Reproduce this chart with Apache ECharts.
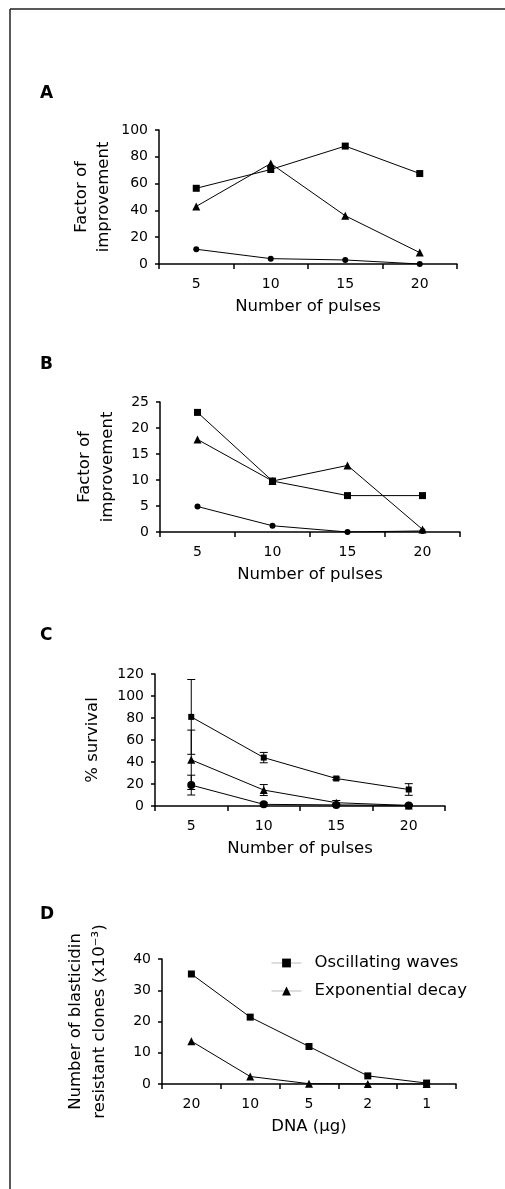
<!DOCTYPE html>
<html><head><meta charset="utf-8">
<script src="https://cdn.jsdelivr.net/npm/echarts@6/dist/echarts.min.js"></script>
<style>html,body{margin:0;padding:0;background:#fff;}#c{width:505px;height:1189px;}</style>
</head><body><div id="c"></div>
<script>
// ---- data ----
const pulses = ['5', '10', '15', '20'];
const aSquares = [56.5, 70.5, 88, 67.5];
const aTriangles = [43, 75, 36, 8.5];
const aCircles = [11, 4, 3, 0];
const bSquares = [23, 9.8, 7, 7];
const bTriangles = [17.8, 9.8, 12.8, 0.5];
const bCircles = [4.9, 1.2, 0, 0.2];
const cSquares = [81, 44, 25, 15];
const cSquaresErr = [34, 4.7, 1.2, 5.3];
const cTriangles = [42, 14.5, 3, 0.5];
const cTrianglesErr = [27, 5, 2, 1];
const cCircles = [19, 1.5, 1, 0.5];
const cCirclesErr = [9, 1.5, 1, 1];
const dnaAmounts = ['20', '10', '5', '2', '1'];
const dOscillating = [35.2, 21.4, 12, 2.6, 0.3];
const dExponential = [13.7, 2.4, 0.1, 0, 0];
const yMaxA = 100, yStepA = 20;
const yMaxB = 25, yStepB = 5;
const yMaxC = 120, yStepC = 20;
const yMaxD = 40, yStepD = 10;

const FF = 'DejaVu Sans';
const chart = echarts.init(document.getElementById('c'), null, {renderer: 'canvas'});

const grids = [
  {left: 159, top: 130, width: 298, height: 134},
  {left: 160, top: 402, width: 300, height: 130},
  {left: 155, top: 674, width: 290, height: 132},
  {left: 162, top: 959, width: 294, height: 125}
].map(g => Object.assign({containLabel: false, outerBoundsMode: 'none'}, g));

function xAx(grid, data, name) {
  return {
    type: 'category', gridIndex: grid, data: data, boundaryGap: true,
    axisLine: {show: true, lineStyle: {color: '#000', width: 1.5}},
    axisTick: {show: true, length: 5, lineStyle: {color: '#000', width: 1.5}},
    axisLabel: {color: '#000', fontSize: 14, margin: 13, fontFamily: FF},
    splitLine: {show: false},
    name: name, nameLocation: 'middle', nameGap: 34, nameMoveOverlap: false,
    nameTextStyle: {color: '#000', fontSize: 16.5, fontFamily: FF}
  };
}
function yAx(grid, max, step, name, gap, lh) {
  return {
    type: 'value', gridIndex: grid, min: 0, max: max, interval: step,
    axisLine: {show: true, lineStyle: {color: '#000', width: 1.5}},
    axisTick: {show: true, length: 4, lineStyle: {color: '#000', width: 1.5}},
    axisLabel: {color: '#000', fontSize: 14, margin: 11, fontFamily: FF},
    splitLine: {show: false},
    name: name, nameLocation: 'middle', nameRotate: 90, nameGap: gap, nameMoveOverlap: false,
    nameTextStyle: {color: '#000', fontSize: 16.5, fontFamily: FF, lineHeight: lh}
  };
}
function line(name, grid, data, symbol, size) {
  return {
    type: 'line', name: name, xAxisIndex: grid, yAxisIndex: grid, data: data,
    symbol: symbol, symbolSize: size, showSymbol: true, z: 4,
    lineStyle: {color: '#000', width: 1}, itemStyle: {color: '#000'},
    emphasis: {disabled: true}
  };
}
function errBars(vals, errs) {
  return {
    type: 'custom', xAxisIndex: 2, yAxisIndex: 2, z: 3,
    data: vals.map((v, i) => [i, v - errs[i], v + errs[i]]),
    encode: {x: 0, y: [1, 2]},
    renderItem: function (params, api) {
      const lo = api.coord([api.value(0), Math.max(0, api.value(1))]);
      const hi = api.coord([api.value(0), api.value(2)]);
      const w = 4, x = lo[0];
      const st = {stroke: '#000', lineWidth: 1};
      return {type: 'group', children: [
        {type: 'line', shape: {x1: x, y1: lo[1], x2: x, y2: hi[1]}, style: st},
        {type: 'line', shape: {x1: x - w, y1: lo[1], x2: x + w, y2: lo[1]}, style: st},
        {type: 'line', shape: {x1: x - w, y1: hi[1], x2: x + w, y2: hi[1]}, style: st}
      ]};
    }
  };
}
function letter(t, y) {
  return {type: 'text', left: 40, top: y, style: {text: t, font: 'bold 17px ' + FF, fill: '#000'}};
}

const option = {
  animation: false,
  backgroundColor: '#fff',
  textStyle: {fontFamily: FF},
  grid: grids,
  xAxis: [
    xAx(0, pulses, 'Number of pulses'),
    xAx(1, pulses, 'Number of pulses'),
    xAx(2, pulses, 'Number of pulses'),
    xAx(3, dnaAmounts, 'DNA (μg)')
  ],
  yAxis: [
    yAx(0, yMaxA, yStepA, 'Factor of\nimprovement', 44.5, 22),
    yAx(1, yMaxB, yStepB, 'Factor of\nimprovement', 41, 23),
    yAx(2, yMaxC, yStepC, '% survival', 50.5, 23),
    yAx(3, yMaxD, yStepD, 'Number of blasticidin\nresistant clones (x10⁻³)', 50, 24)
  ],
  legend: {
    data: ['Oscillating waves', 'Exponential decay'],
    orient: 'vertical', left: 266, top: 949, itemWidth: 30, itemHeight: 11, itemGap: 10,
    textStyle: {color: '#000', fontSize: 16.5, fontFamily: FF, lineHeight: 18, padding: [0, 0, 0, 8]},
    lineStyle: {color: '#bbb', width: 1},
    selectedMode: false
  },
  graphic: [
    {type: 'line', shape: {x1: 10, y1: 9, x2: 505, y2: 9}, style: {stroke: '#222', lineWidth: 1.5}},
    {type: 'line', shape: {x1: 10, y1: 9, x2: 10, y2: 1189}, style: {stroke: '#222', lineWidth: 1.5}},
    letter('A', 85), letter('B', 356), letter('C', 627), letter('D', 906)
  ],
  series: [
    line('A squares', 0, aSquares, 'rect', 7),
    line('A triangles', 0, aTriangles, 'triangle', 8),
    line('A circles', 0, aCircles, 'circle', 6),
    line('B squares', 1, bSquares, 'rect', 7),
    line('B triangles', 1, bTriangles, 'triangle', 8),
    line('B circles', 1, bCircles, 'circle', 6),
    errBars(cSquares, cSquaresErr),
    errBars(cTriangles, cTrianglesErr),
    errBars(cCircles, cCirclesErr),
    line('C squares', 2, cSquares, 'rect', 6),
    line('C triangles', 2, cTriangles, 'triangle', 8),
    line('C circles', 2, cCircles, 'circle', 8),
    line('Oscillating waves', 3, dOscillating, 'rect', 7),
    line('Exponential decay', 3, dExponential, 'triangle', 8)
  ]
};
chart.setOption(option);
</script></body></html>
